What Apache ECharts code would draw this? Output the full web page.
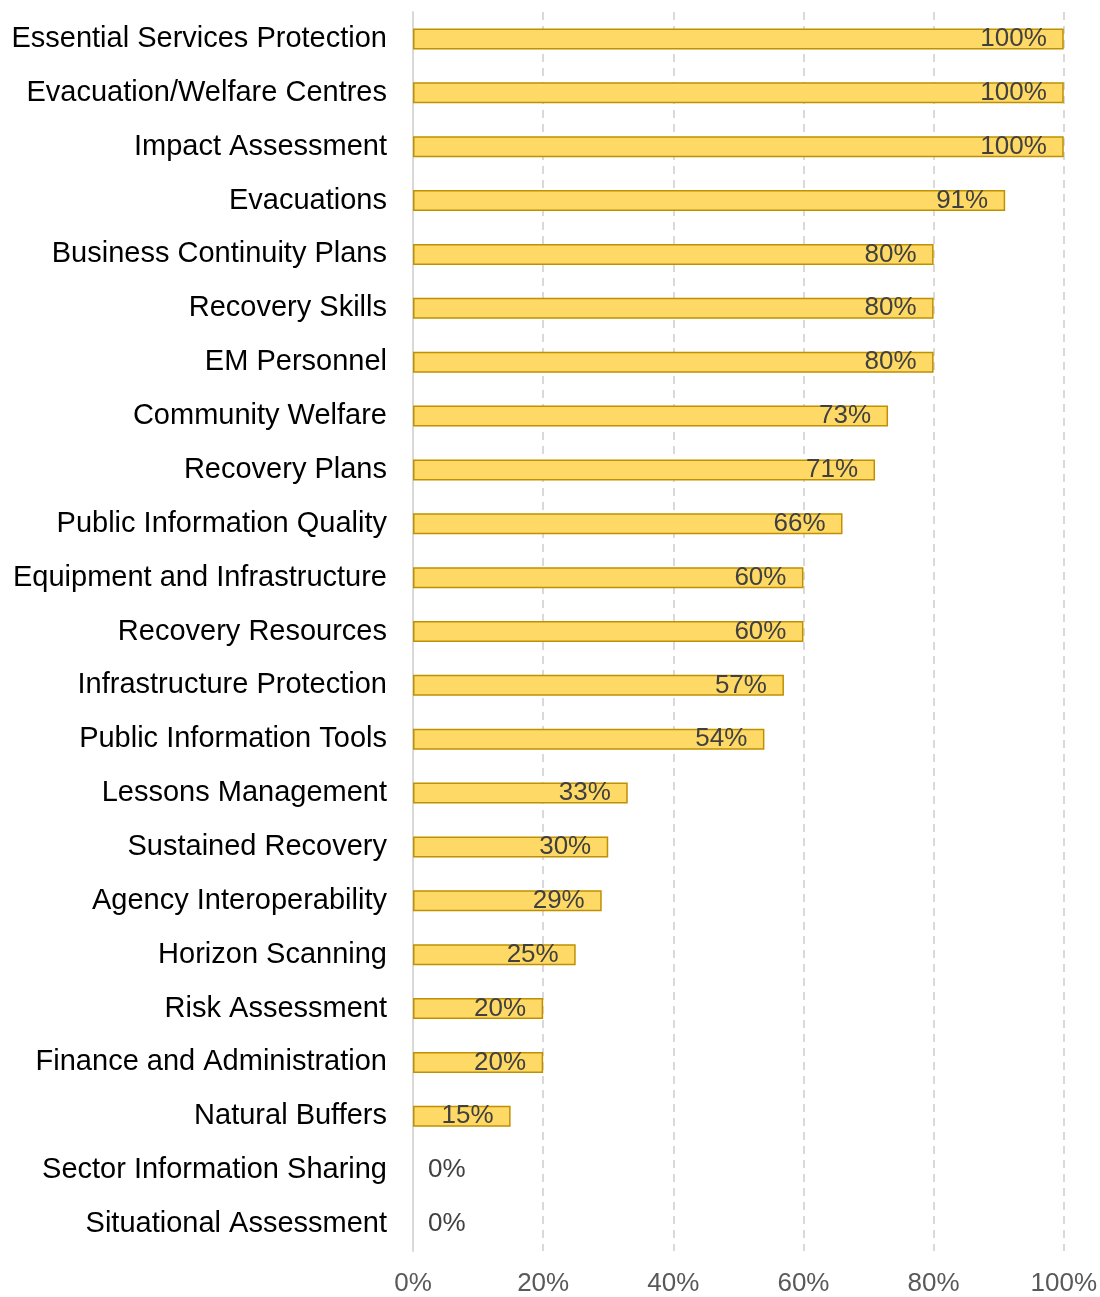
<!DOCTYPE html>
<html>
<head>
<meta charset="utf-8">
<script src="https://cdn.jsdelivr.net/npm/echarts@6/dist/echarts.min.js"></script>
<style>html,body{margin:0;padding:0;background:#fff}#main{width:1100px;height:1297px}</style>
</head>
<body>
<div id="main"></div>
<script>
const categories = [
  "Essential Services Protection","Evacuation/Welfare Centres","Impact Assessment","Evacuations",
  "Business Continuity Plans","Recovery Skills","EM Personnel","Community Welfare","Recovery Plans",
  "Public Information Quality","Equipment and Infrastructure","Recovery Resources",
  "Infrastructure Protection","Public Information Tools","Lessons Management","Sustained Recovery",
  "Agency Interoperability","Horizon Scanning","Risk Assessment","Finance and Administration",
  "Natural Buffers","Sector Information Sharing","Situational Assessment"
];
const values = [100,100,100,91,80,80,80,73,71,66,60,60,57,54,33,30,29,25,20,20,15,0,0];
const xTicks = [0,20,40,60,80,100];

const FONT = 'Liberation Sans, Arial, sans-serif';
const chart = echarts.init(document.getElementById('main'), null, {renderer:'canvas'});
chart.setOption({
  animation:false,
  grid:{left:413,right:36,top:12,bottom:45,containLabel:false},
  xAxis:{
    type:'value',min:xTicks[0],max:xTicks[xTicks.length-1],interval:20,
    axisLine:{show:false},axisTick:{show:false},
    axisLabel:{formatter:v=>v+'%',fontSize:26,color:'#595959',fontFamily:FONT,margin:20},
    splitLine:{show:true,lineStyle:{color:'#D9D9D9',width:2,type:[8,6]}}
  },
  yAxis:{
    type:'category',data:categories,inverse:true,
    axisLine:{show:true,lineStyle:{color:'#D9D9D9',width:2}},
    axisTick:{show:false},
    axisLabel:{fontSize:29,color:'#000',fontFamily:FONT,margin:26}
  },
  series:[{
    type:'bar',barWidth:21,
    data:values.map(v=>({
      value:v,
      itemStyle: v===0 ? {borderWidth:0,color:'rgba(0,0,0,0)'} : undefined,
      label: v===0 ? {position:'right',distance:15} : {position:'insideRight',distance:17}
    })),
    itemStyle:{color:'#FFD966',borderColor:'#BF9000',borderWidth:1.5},
    label:{show:true,formatter:p=>p.value+'%',fontSize:26,color:'#404040',fontFamily:FONT}
  }]
});
</script>
</body>
</html>
